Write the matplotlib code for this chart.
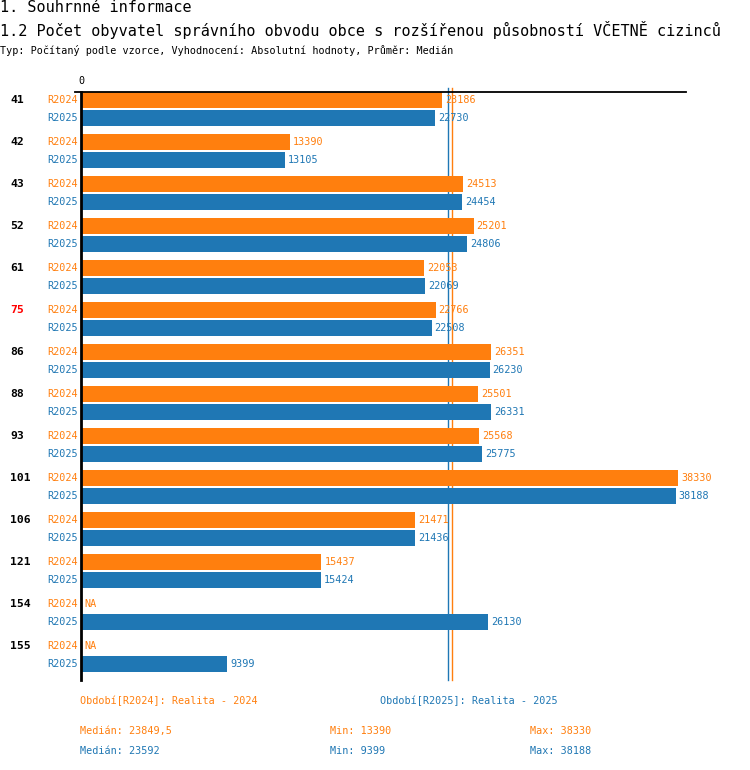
import numpy as np
import matplotlib
matplotlib.use('Agg')
import matplotlib.pyplot as plt

plt.rcParams['font.family'] = ['DejaVu Sans Mono', 'DejaVu Sans']

# data
groups = ['41', '42', '43', '52', '61', '75', '86', '88', '93', '101', '106', '121', '154', '155']
r2024 = [23186, 13390, 24513, 25201, 22053, 22766, 26351, 25501, 25568, 38330, 21471, 15437, np.nan, np.nan]
r2025 = [22730, 13105, 24454, 24806, 22069, 22508, 26230, 26331, 25775, 38188, 21436, 15424, 26130, 9399]
series = ['R2024', 'R2025']
series_titles = ['Realita - 2024', 'Realita - 2025']
highlight = '75'

C24 = '#ff7f0e'
C25 = '#1f77b4'
colors = [C24, C25]

W, H = 750, 770
fig = plt.figure(figsize=(W / 100, H / 100), dpi=100)


def fx(x):
    return x / W


def fy(y):
    return 1 - y / H


# titles
fig.text(fx(0), fy(8), '1. Souhrnné informace', fontsize=10.9, va='center', ha='left')
fig.text(fx(0), fy(30), '1.2 Počet obyvatel správního obvodu obce s rozšířenou působností VČETNĚ cizinců',
         fontsize=10.9, va='center', ha='left')
fig.text(fx(0), fy(50), 'Typ: Počítaný podle vzorce, Vyhodnocení: Absolutní hodnoty, Průměr: Medián',
         fontsize=7.3, va='center', ha='left')

# axes area in pixels
left, right, top, bottom = 81, 686, 92, 680
ax = fig.add_axes([fx(left), fy(bottom), fx(right - left), (bottom - top) / H])
xmax_val = 38330
px_per_unit = (678 - left) / xmax_val
ax.set_xlim(0, (right - left) / px_per_unit)

spacing = 42.0
y0 = 109.0
ax.set_ylim((bottom - y0) / spacing, (top - y0) / spacing)
ax.axis('off')

off = 9 / spacing
bh = 16 / spacing
y = np.arange(len(groups))
vals = [np.array(r2024, dtype=float), np.array(r2025, dtype=float)]
ax.barh(y - off, np.nan_to_num(vals[0]), height=bh, color=C24, zorder=2)
ax.barh(y + off, vals[1], height=bh, color=C25, zorder=2)

dx = 3 / px_per_unit
for k, (v, c) in enumerate(zip(vals, colors)):
    yy = y - off if k == 0 else y + off
    for yi, vi in zip(yy, v):
        if np.isnan(vi):
            ax.text(dx, yi, 'NA', color=c, fontsize=7.3, va='center', ha='left', zorder=3)
        else:
            ax.text(vi + dx, yi, f'{int(vi)}', color=c, fontsize=7.3, va='center', ha='left', zorder=3)
        ax.text(-3 / px_per_unit, yi, series[k], color=c, fontsize=7.3, va='center', ha='right', clip_on=False)

for yi, g in zip(y, groups):
    ax.text(-71 / px_per_unit, yi - off, g, color='red' if g == highlight else 'black',
            fontsize=8.2, fontweight='bold', va='center', ha='left', clip_on=False)

# medians (behind bars)
med24 = np.nanmedian(vals[0])
med25 = np.nanmedian(vals[1])
ax.axvline(med25, color=C25, lw=1, ymin=0, ymax=1 + 4 / (bottom - top), clip_on=False, zorder=1)
ax.axvline(med24, color=C24, lw=1, ymin=0, ymax=1 + 4 / (bottom - top), clip_on=False, zorder=1)

# zero line and top line
ax.axvline(0, color='black', lw=2, clip_on=False, zorder=4)
ax.plot([-6 / px_per_unit, ax.get_xlim()[1]], [ax.get_ylim()[1]] * 2, color='black', lw=1.3,
        clip_on=False, zorder=4)
fig.text(fx(left), fy(81), '0', fontsize=7.3, ha='center', va='center')

# legend / summary
fig.text(fx(80), fy(701), f'Období[{series[0]}]: {series_titles[0]}', color=C24, fontsize=7.3, va='center')
fig.text(fx(380), fy(701), f'Období[{series[1]}]: {series_titles[1]}', color=C25, fontsize=7.3, va='center')


def fmt(v):
    return (f'{v:.1f}'.replace('.', ',') if v != int(v) else f'{int(v)}')


for row, (v, c) in enumerate(zip(vals, colors)):
    yy = 731 + row * 20
    fig.text(fx(80), fy(yy), f'Medián: {fmt(np.nanmedian(v))}', color=c, fontsize=7.3, va='center')
    fig.text(fx(330), fy(yy), f'Min: {fmt(np.nanmin(v))}', color=c, fontsize=7.3, va='center')
    fig.text(fx(530), fy(yy), f'Max: {fmt(np.nanmax(v))}', color=c, fontsize=7.3, va='center')

fig.savefig('out.png', dpi=100)
